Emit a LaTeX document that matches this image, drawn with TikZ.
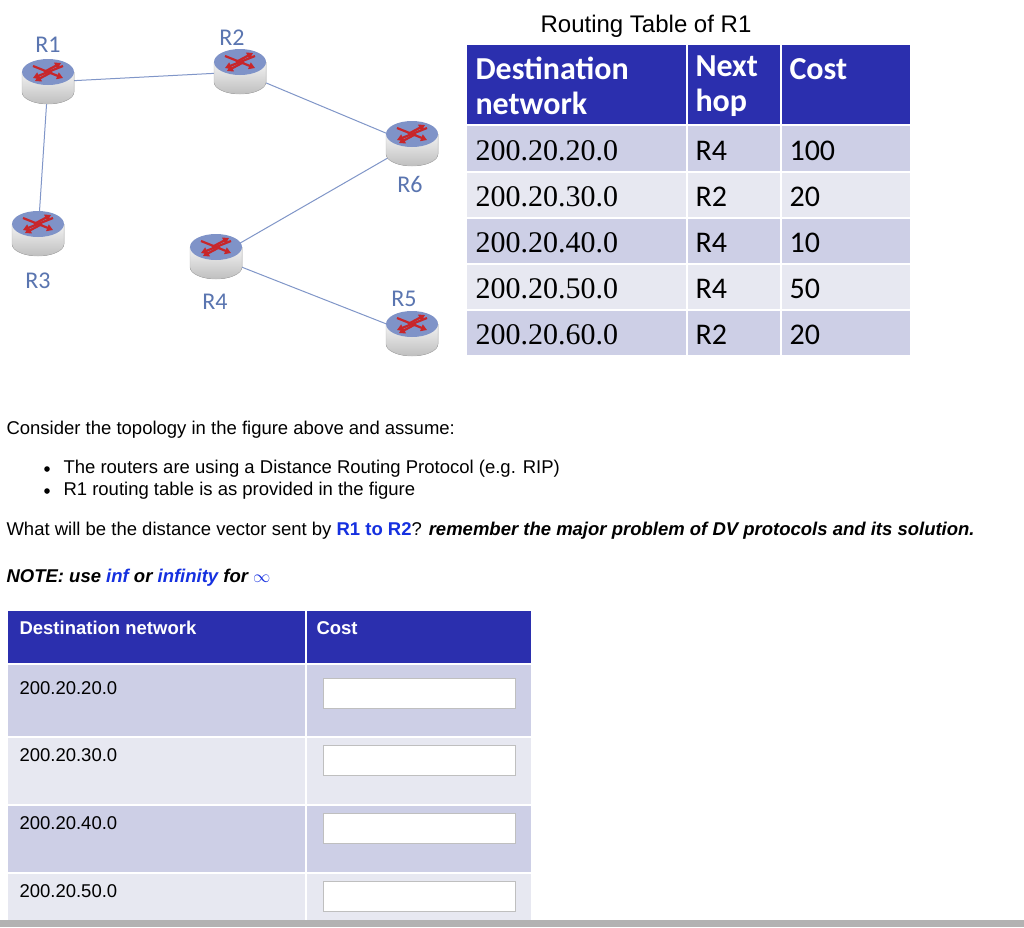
\documentclass[tikz,border=0pt]{standalone}
\usepackage{fontspec}
\setmainfont{Liberation Sans}
\newfontfamily\calfnt{Carlito}
\newfontfamily\tmsfnt{Liberation Serif}
\usetikzlibrary{arrows.meta}
\definecolor{hdr}{HTML}{2B2FAE}
\definecolor{rowA}{HTML}{CDCFE6}
\definecolor{rowB}{HTML}{E7E8F1}
\definecolor{lbl}{HTML}{5A75B0}
\definecolor{lnk}{HTML}{8096C8}
\definecolor{rtop}{HTML}{7F93C8}
\definecolor{rred}{HTML}{C8262A}
\definecolor{blu}{HTML}{1530E0}
\tikzset{
  lab/.style={text=lbl,font=\calfnt\fontsize{24}{24}\selectfont},
  link/.style={draw=lnk,line width=1pt},
  cell/.style={anchor=west,font=\calfnt\fontsize{30}{30}\selectfont},
  hcell/.style={anchor=west,text=white,align=left,font=\calfnt\bfseries\fontsize{32}{35}\selectfont},
  addr/.style={anchor=west,font=\tmsfnt\fontsize{30}{30}\selectfont},
  txt/.style={anchor=west,font=\fontsize{18.5}{20}\selectfont},
  inbox/.style={draw=gray!50,fill=white,minimum width=192pt,minimum height=30pt,inner sep=0pt}
}
\newcommand\router[2]{%
  \begin{scope}[shift={#2}]
    \fill[top color=gray!10,bottom color=gray!50] (-26,0) -- (-26,20) arc[start angle=180,end angle=0,x radius=26,y radius=12] -- (26,0) -- cycle;
    \draw[gray!55] (-26,0) -- (-26,20) arc[start angle=180,end angle=0,x radius=26,y radius=12] -- (26,0);
    \fill[rtop] (0,0) ellipse[x radius=26,y radius=13];
    \draw[rred,line width=2.2pt,-{Triangle[length=6pt,width=7pt]}] (-15,-6) -- (15,6);
    \draw[rred,line width=2.2pt,-{Triangle[length=6pt,width=7pt]}] (15,-6) -- (-15,6);
    \draw[rred,line width=2.2pt,-{Triangle[length=6pt,width=7pt]}] (-4,0) -- (13,-9);
    \draw[rred,line width=2.2pt,-{Triangle[length=6pt,width=7pt]}] (4,0) -- (-13,9);
  \end{scope}
  \coordinate (#1) at #2;}
\begin{document}
\begin{tikzpicture}[x=1pt,y=-1pt]
\useasboundingbox (0,0) rectangle (1024,927);
\fill[white] (0,0) rectangle (1024,927);
% links
\coordinate (c1) at (48,82); \coordinate (c2) at (240,72); \coordinate (c6) at (412,144);
\coordinate (c3) at (38,234); \coordinate (c4) at (216,257); \coordinate (c5) at (412,334);
\draw[link] (c1) -- (c2); \draw[link] (c2) -- (c6); \draw[link] (c1) -- (c3);
\draw[link] (c6) -- (c4); \draw[link] (c4) -- (c5);
\router{R1}{(48,72)} \router{R2}{(240,62)} \router{R6}{(412,134)}
\router{R3}{(38,224)} \router{R4}{(216,247)} \router{R5}{(412,324)}
\node[lab] (l1) at (48,45) {R1}; \node[lab] (l2) at (232,38) {R2};
\node[lab] (l6) at (410,184) {R6}; \node[lab] (l3) at (38,281) {R3};
\node[lab] (l4) at (215,302) {R4}; \node[lab] (l5) at (404,299) {R5};
% top table
\node[font=\fontsize{24}{24}\selectfont] (tt) at (646,26) {Routing Table of R1};
\fill[hdr] (467,45) rectangle (910,125);
\fill[rowA] (467,125) rectangle (910,172);
\fill[rowB] (467,172) rectangle (910,218);
\fill[rowA] (467,218) rectangle (910,264);
\fill[rowB] (467,264) rectangle (910,310);
\fill[rowA] (467,310) rectangle (910,355);
\foreach \y in {125,172,218,264,310} \draw[white,line width=1.5pt] (467,\y) -- (910,\y);
\draw[white,line width=1.5pt] (687,45) -- (687,355) (781,45) -- (781,355);
\node[hcell] (h1) at (472,86) {Destination\\network};
\node[hcell] (h2) at (692,86) {Next\\hop};
\node[hcell] (h3) at (786,69) {Cost};
\foreach \y/\a/\h/\c in {151/200.20.20.0/R4/100,197/200.20.30.0/R2/20,243/200.20.40.0/R4/10,289/200.20.50.0/R4/50,335/200.20.60.0/R2/20}{
  \node[addr] at (472,\y) {\a};
  \node[cell] at (692,\y) {\h};
  \node[cell] at (786,\y) {\c};
}
% text
\node[txt] (t1) at (3,430) {Consider the topology in the figure above and assume:};
\fill (47,469) circle (2.8); \fill (47,491) circle (2.8);
\node[txt] (b1) at (60,469) {The routers are using a Distance Routing Protocol (e.g. RIP)};
\node[txt] (b2) at (60,491) {R1 routing table is as provided in the figure};
\node[txt] (q) at (3,531) {What will be the distance vector sent by \textcolor{blu}{\bfseries R1 to R2}? \bfseries\itshape remember the major problem of DV protocols and its solution.};
\node[txt,font=\bfseries\itshape\fontsize{18.5}{20}\selectfont] (n) at (3,578) {NOTE: use \textcolor{blu}{inf} or \textcolor{blu}{infinity} for \textcolor{blu}{$\infty$}};
% bottom table
\fill[hdr] (8,611) rectangle (531,664);
\fill[rowA] (8,664) rectangle (531,737);
\fill[rowB] (8,737) rectangle (531,805);
\fill[rowA] (8,805) rectangle (531,873);
\fill[rowB] (8,873) rectangle (531,920);
\foreach \y in {664,737,805,873} \draw[white,line width=1.5pt] (8,\y) -- (531,\y);
\draw[white,line width=1.5pt] (306,611) -- (306,920);
\node[txt,text=white,font=\bfseries\fontsize{18.5}{20}\selectfont] (bh1) at (16,628) {Destination network};
\node[txt,text=white,font=\bfseries\fontsize{18.5}{20}\selectfont] (bh2) at (313,628) {Cost};
\foreach \y/\a in {688/200.20.20.0,755/200.20.30.0,823/200.20.40.0,891/200.20.50.0}{
  \node[txt] at (16,\y) {\a};
  \node[inbox] at (419,\y+5) {};
}
\fill[gray!60] (0,920) rectangle (1024,927);
\end{tikzpicture}
\end{document}
